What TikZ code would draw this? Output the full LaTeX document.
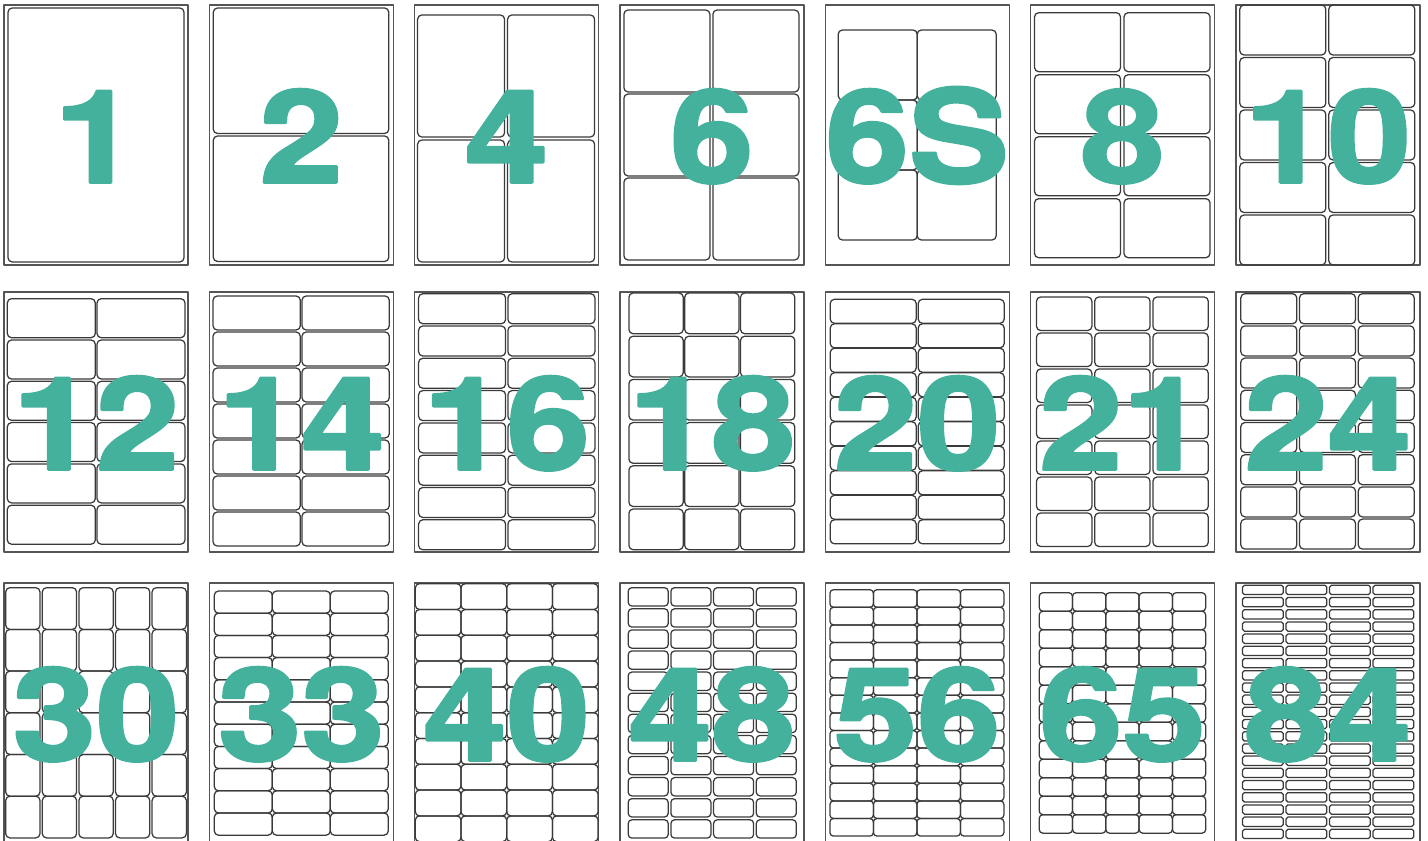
\documentclass[tikz,border=0pt]{standalone}
\usepackage{fontspec}
\usepackage{tikz}
\newfontfamily\countfont{TeX Gyre Heros}[BoldFeatures={FakeBold=2}]
\definecolor{countteal}{HTML}{44B19C}
\definecolor{sheetgrey}{HTML}{555555}
\definecolor{labelgrey}{HTML}{3A3A3A}

\begin{document}
\begin{tikzpicture}[x=0.02cm,y=-0.02cm,line join=round,
    sheet/.style={draw=sheetgrey,line width=.8pt},
    lbl/.style={draw=labelgrey,line width=.72pt},
    count/.style={text=countteal,inner sep=0pt,anchor=base,
      font=\countfont\bfseries\fontsize{73.5}{73.5}\selectfont}]
  \useasboundingbox (0,0) rectangle (1428,841);

  % One sheet per entry: top-left corner, count, columns x rows,
  % left and top margin, label size, label pitch.
  \foreach \sx/\sy/\num/\nc/\nr/\lm/\tm/\w/\h/\px/\py in {
      4/5/1/1/1/4/3/176/254/0/0,
      209.3/5/2/1/2/4/3/175.5/125.5/0/128,
      414.6/5/4/2/2/3/10/87/122/90/125,
      619.9/5/6/2/3/4/5/86/82/89/84,
      825.2/5/6S/2/3/13/25/79/70/79/70,
      1030.5/5/8/2/4/4/7.7/86/59/89.5/62,
      1235.8/5/10/2/5/4/0/86/50/89/52.5,
      4/292/12/2/6/3.3/6.7/88/39/89.7/41.3,
      209.3/292/14/2/7/3.7/4/87.3/34/89/36,
      414.6/292/16/2/8/4/1.7/87/30/89.3/32.3,
      619.9/292/18/3/6/9/1/54.3/40.7/55.8/43.2,
      825.2/292/20/2/10/5/7.3/86/24/88/24.5,
      1030.5/292/21/3/7/6/5/55.4/33.5/58.2/36,
      1235.8/292/24/3/8/5/1.7/56/30/58.7/32.2,
      4/583/30/5/6/1.7/4.7/34.3/41.7/36.6/41.7,
      209.3/583/33/3/11/5/8/58/22.2/58/22.2,
      414.6/583/40/4/10/0.7/0.7/45.7/25.8/45.7/25.8,
      619.9/583/48/4/12/8.3/4.7/40/18.3/42.7/21.1,
      825.2/583/56/4/14/4.7/6.7/43.5/17.6/43.5/17.6,
      1030.5/583/65/5/13/8.7/9.7/33.3/18.5/33.3/18.5,
      1235.8/583/84/4/21/6.7/2.3/40.8/9.3/43.5/12.2}
  {
    \begin{scope}[shift={(\sx,\sy)}]
      \draw[sheet] (0,0) rectangle (184,260);
      % corner radius shrinks with the label height
      \pgfmathsetmacro\rc{min(2.4,0.2*\h*0.569)}
      \foreach \i in {1,...,\nc}
        \foreach \j in {1,...,\nr}
          \draw[lbl,rounded corners=\rc pt]
            ({\lm+(\i-1)*\px},{\tm+(\j-1)*\py}) rectangle ++(\w,\h);
      \node[count] (n\num) at (92,177.5) {\scalebox{1.16}[1]{\num}};
    \end{scope}
  }
\end{tikzpicture}
\end{document}
